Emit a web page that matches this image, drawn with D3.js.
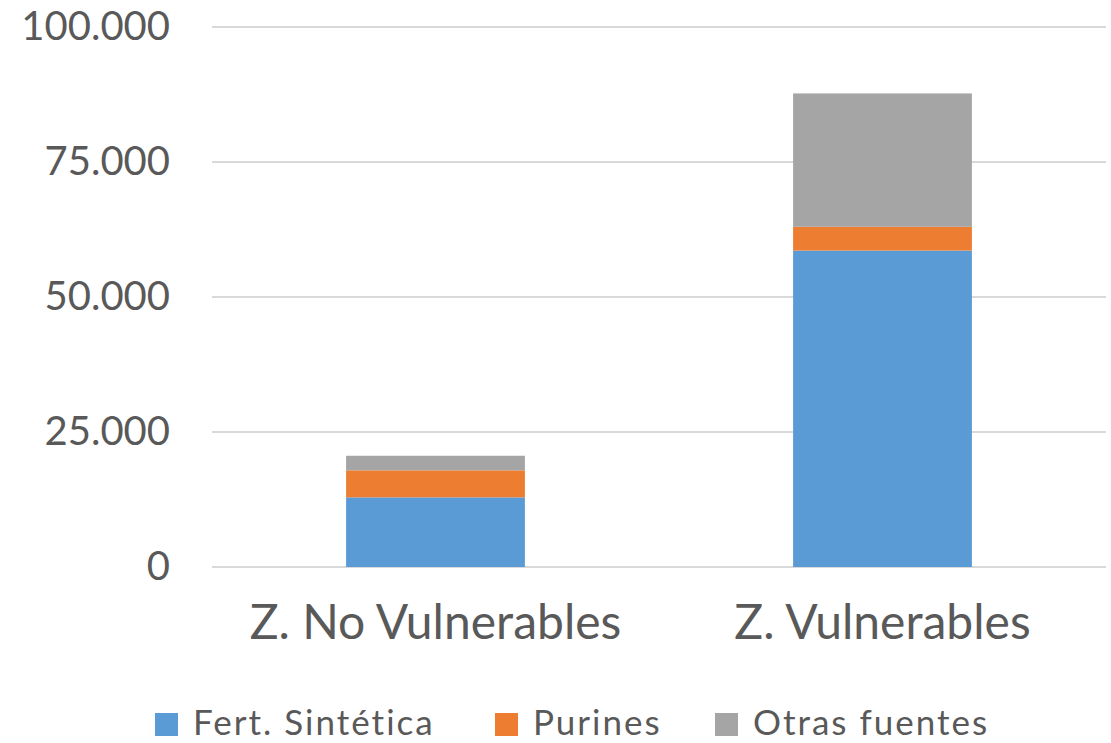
<!DOCTYPE html>
<html>
<head>
<meta charset="utf-8">
<script src="https://cdn.jsdelivr.net/npm/d3@7"></script>
<style>
  body { margin: 0; background: #fff; }
  text { font-family: Lato, "Open Sans", sans-serif; fill: #595959; }
</style>
</head>
<body>
<svg id="chart" width="1111" height="743"></svg>
<script>
// chart data
var categories = ['Z. No Vulnerables', 'Z. Vulnerables'];
var seriesNames = ['Fert. Sintética', 'Purines', 'Otras fuentes'];
var fertSintetica = [12900, 58600];
var purines = [5000, 4400];
var otrasFuentes = [2700, 24700];
var yTicks = [0, 25000, 50000, 75000, 100000];
var yTickLabels = ['0', '25.000', '50.000', '75.000', '100.000'];

var colors = ['#5B9BD5', '#ED7D31', '#A5A5A5'];

var svg = d3.select('#chart');
var margin = { top: 27, right: 5, bottom: 176, left: 212 },
    width = 1111 - margin.left - margin.right,
    height = 743 - margin.top - margin.bottom;

// build rows for the stack
var rows = categories.map(function (c, i) {
    return { cat: c, 'Fert. Sintética': fertSintetica[i], 'Purines': purines[i], 'Otras fuentes': otrasFuentes[i] };
});
var stacked = d3.stack().keys(seriesNames)(rows);

var x = d3.scaleBand()
    .domain(categories)
    .range([0, width])
    .paddingInner(0.6)
    .paddingOuter(0.3);

var y = d3.scaleLinear()
    .domain([0, 100000])
    .range([height, 0]);

var g = svg.append('g')
    .attr('transform', 'translate(' + margin.left + ',' + margin.top + ')');

// gridlines
g.selectAll('.grid')
    .data(yTicks)
    .enter()
    .append('line')
    .attr('class', 'grid')
    .attr('x1', 0)
    .attr('x2', width)
    .attr('y1', function (d) { return y(d); })
    .attr('y2', function (d) { return y(d); })
    .attr('stroke', '#D9D9D9')
    .attr('stroke-width', 2);

// y axis labels
var yAxis = d3.axisLeft(y)
    .tickValues(yTicks)
    .tickSize(0)
    .tickPadding(42)
    .tickFormat(function (d, i) { return yTickLabels[i]; });

var yg = g.append('g').call(yAxis);
yg.select('.domain').remove();
yg.selectAll('text')
    .attr('font-size', 40)
    .attr('font-family', 'Lato, sans-serif')
    .attr('fill', '#595959');

// bars
g.selectAll('.series')
    .data(stacked)
    .enter()
    .append('g')
    .attr('class', 'series')
    .attr('fill', function (d, i) { return colors[i]; })
    .selectAll('rect')
    .data(function (d) { return d; })
    .enter()
    .append('rect')
    .attr('x', function (d) { return x(d.data.cat); })
    .attr('width', x.bandwidth())
    .attr('y', function (d) { return y(d[1]); })
    .attr('height', function (d) { return y(d[0]) - y(d[1]); });

// x axis labels
var xAxis = d3.axisBottom(x).tickSize(0).tickPadding(38);
var xg = g.append('g')
    .attr('transform', 'translate(0,' + height + ')')
    .call(xAxis);
xg.select('.domain').remove();
xg.selectAll('text')
    .attr('font-size', 48)
    .attr('font-family', 'Lato, sans-serif')
    .attr('fill', '#595959');

// legend
var legendX = [155, 495, 715];
var legend = svg.append('g').attr('class', 'legend');
seriesNames.forEach(function (name, i) {
    var item = legend.append('g')
        .attr('transform', 'translate(' + legendX[i] + ',713)');
    item.append('rect')
        .attr('width', 23)
        .attr('height', 23)
        .attr('fill', colors[i]);
    item.append('text')
        .attr('x', 38)
        .attr('y', 22)
        .attr('font-size', 35)
        .attr('letter-spacing', 2)
        .text(name);
});
</script>
</body>
</html>
